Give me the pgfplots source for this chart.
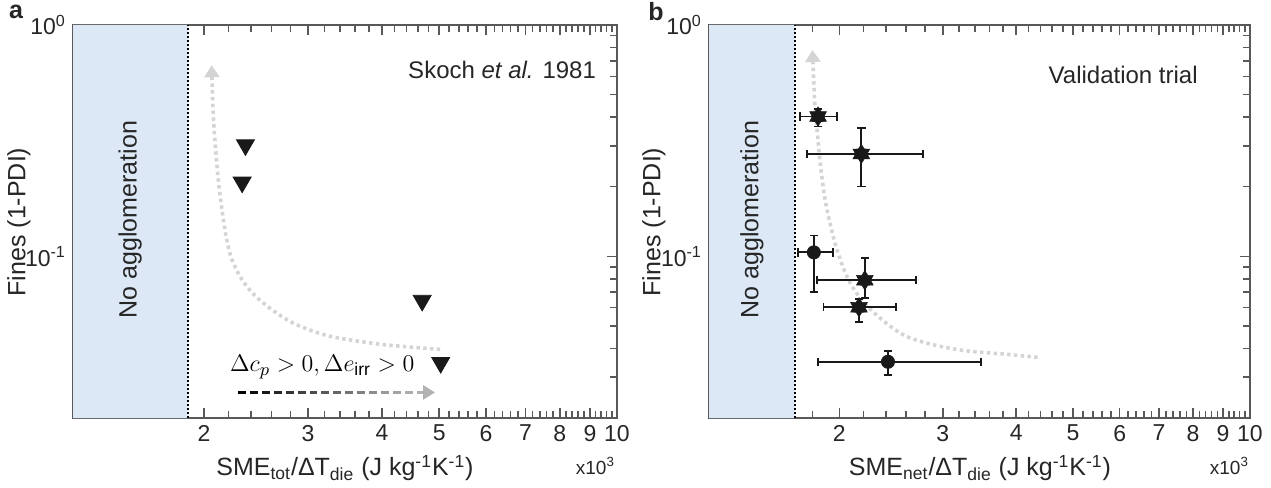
\documentclass[border=0pt]{standalone}
\usepackage{fontspec}
\setmainfont{Liberation Sans}
\usepackage{pgfplots}
\pgfplotsset{compat=1.18}
\usetikzlibrary{arrows.meta}
\definecolor{axgray}{HTML}{595959}
\definecolor{txtgray}{HTML}{262626}
\definecolor{noagg}{RGB}{220,232,245}
\definecolor{curvegray}{HTML}{D4D4D4}

\pgfdeclareplotmark{hexstar}{%
  \pgfpathmoveto{\pgfpointpolar{90}{\pgfplotmarksize}}%
  \pgfpathlineto{\pgfpointpolar{120}{0.6\pgfplotmarksize}}%
  \pgfpathlineto{\pgfpointpolar{150}{\pgfplotmarksize}}%
  \pgfpathlineto{\pgfpointpolar{180}{0.6\pgfplotmarksize}}%
  \pgfpathlineto{\pgfpointpolar{210}{\pgfplotmarksize}}%
  \pgfpathlineto{\pgfpointpolar{240}{0.6\pgfplotmarksize}}%
  \pgfpathlineto{\pgfpointpolar{270}{\pgfplotmarksize}}%
  \pgfpathlineto{\pgfpointpolar{300}{0.6\pgfplotmarksize}}%
  \pgfpathlineto{\pgfpointpolar{330}{\pgfplotmarksize}}%
  \pgfpathlineto{\pgfpointpolar{0}{0.6\pgfplotmarksize}}%
  \pgfpathlineto{\pgfpointpolar{30}{\pgfplotmarksize}}%
  \pgfpathlineto{\pgfpointpolar{60}{0.6\pgfplotmarksize}}%
  \pgfpathclose
  \pgfusepathqfillstroke}

\tikzset{
  ebar/.style={black!90, line width=0.9pt},
  hbar/.style={ebar, mark=|, mark size=2.1pt, mark options={solid, line width=0.9pt}},
  vbar/.style={ebar, mark=-, mark size=2.1pt, mark options={solid, line width=0.9pt}},
  dsh/.style={line width=1.6pt, line cap=butt},
  gcurve/.style={curvegray, line width=1.8pt, line cap=butt, dash pattern=on 1.7pt off 1.7pt, smooth, tension=0.5, -{Triangle[length=6pt,width=7.5pt]}},
}

\begin{document}
\begin{tikzpicture}[x=1pt, y=1pt, font=\fontsize{12.5}{14}\selectfont]
\path[use as bounding box] (0,0) rectangle (635.5,244);

% ---------------- panel a ----------------
\begin{axis}[
    width=272pt, at={(36.5pt,35pt)}, anchor=south west,
    scale only axis, height=196.5pt,
    xmode=log, ymode=log,
    xmin=1.2, xmax=10, ymin=0.02, ymax=1,
    clip mode=individual,
    axis line style={draw=axgray, line width=1pt},
    major tick style={draw=axgray, line width=0.8pt},
    minor tick style={draw=axgray, line width=0.8pt},
    tick align=inside,
    major tick length=5pt, minor tick length=3.4pt,
    xtick={2,3,4,5,6,7,8,9,10},
    xticklabels={2,3,4,5,6,7,8,9,10},
    minor xtick={1.4,1.6,1.8,2.2,2.4,2.6,2.8,3.2,3.4,3.6,3.8,4.2,4.4,4.6,4.8,5.2,5.4,5.6,5.8,6.2,6.4,6.6,6.8,7.2,7.4,7.6,7.8,8.2,8.4,8.6,8.8,9.2,9.4,9.6,9.8},
    ytick={0.1,1},
    yticklabels={10\textsuperscript{-1},10\textsuperscript{0}},
    minor ytick={0.03,0.04,0.05,0.06,0.07,0.08,0.09,0.2,0.3,0.4,0.5,0.6,0.7,0.8,0.9},
    tick label style={font=\fontsize{11.5}{13}\selectfont, text=txtgray},
  ]
\addplot[fill=noagg, draw=none, forget plot] coordinates {(1.2,0.02) (1.88,0.02) (1.88,1) (1.2,1)} \closedcycle;
\addplot[black, line width=0.9pt, dash pattern=on 1pt off 1pt, forget plot] coordinates {(1.88,0.02) (1.88,1)};
\node[rotate=90, text=txtgray, font=\fontsize{12.5}{14}\selectfont] at (axis cs:1.5,0.144) {No agglomeration};
\addplot[gcurve] coordinates {(5.02,0.0396) (4.0,0.0416) (3.26,0.0452) (2.85,0.051) (2.60,0.059) (2.42,0.069) (2.30,0.082) (2.22,0.10) (2.17,0.13) (2.12,0.20) (2.09,0.30) (2.07,0.44) (2.06,0.67)};
\addplot[only marks, mark=triangle*, mark size=5.2pt, mark options={rotate=180, fill=black!90, draw=black!90}] coordinates {(2.35,0.303) (2.32,0.209) (4.68,0.0644) (5.03,0.0347)};
% gradient dashed arrow
\addplot[dsh, black!100] coordinates {(2.280,0.0258) (2.352,0.0258)};
\addplot[dsh, black!95] coordinates {(2.389,0.0258) (2.464,0.0258)};
\addplot[dsh, black!90] coordinates {(2.503,0.0258) (2.582,0.0258)};
\addplot[dsh, black!85] coordinates {(2.623,0.0258) (2.706,0.0258)};
\addplot[dsh, black!80] coordinates {(2.748,0.0258) (2.835,0.0258)};
\addplot[dsh, black!75] coordinates {(2.879,0.0258) (2.970,0.0258)};
\addplot[dsh, black!70] coordinates {(3.017,0.0258) (3.112,0.0258)};
\addplot[dsh, black!65] coordinates {(3.161,0.0258) (3.261,0.0258)};
\addplot[dsh, black!60] coordinates {(3.312,0.0258) (3.417,0.0258)};
\addplot[dsh, black!55] coordinates {(3.470,0.0258) (3.580,0.0258)};
\addplot[dsh, black!50] coordinates {(3.636,0.0258) (3.751,0.0258)};
\addplot[dsh, black!45] coordinates {(3.810,0.0258) (3.930,0.0258)};
\addplot[dsh, black!40] coordinates {(3.992,0.0258) (4.118,0.0258)};
\addplot[dsh, black!36] coordinates {(4.182,0.0258) (4.314,0.0258)};
\addplot[dsh, black!32] coordinates {(4.382,0.0258) (4.520,0.0258)};
\addplot[dsh, black!30, -{Triangle[length=6pt,width=7pt]}] coordinates {(4.592,0.0258) (4.92,0.0258)};
\node[font=\fontsize{12.5}{14}\selectfont] at (axis cs:3.17,0.0333) {$\Delta c_p > 0, \Delta e_{\mathrm{irr}} > 0$};
\node[anchor=east, inner sep=0pt, text=txtgray, font=\fontsize{12}{14}\selectfont] at (rel axis cs:0.962,0.885) {Skoch \textit{et al.} 1981};
\end{axis}

% ---------------- panel b ----------------
\begin{axis}[
    width=270.5pt, at={(354.5pt,35pt)}, anchor=south west,
    scale only axis, height=196.5pt,
    xmode=log, ymode=log,
    xmin=1.2, xmax=10, ymin=0.02, ymax=1,
    clip mode=individual,
    axis line style={draw=axgray, line width=1pt},
    major tick style={draw=axgray, line width=0.8pt},
    minor tick style={draw=axgray, line width=0.8pt},
    tick align=inside,
    major tick length=5pt, minor tick length=3.4pt,
    xtick={2,3,4,5,6,7,8,9,10},
    xticklabels={2,3,4,5,6,7,8,9,10},
    minor xtick={1.4,1.6,1.8,2.2,2.4,2.6,2.8,3.2,3.4,3.6,3.8,4.2,4.4,4.6,4.8,5.2,5.4,5.6,5.8,6.2,6.4,6.6,6.8,7.2,7.4,7.6,7.8,8.2,8.4,8.6,8.8,9.2,9.4,9.6,9.8},
    ytick={0.1,1},
    yticklabels={10\textsuperscript{-1},10\textsuperscript{0}},
    minor ytick={0.03,0.04,0.05,0.06,0.07,0.08,0.09,0.2,0.3,0.4,0.5,0.6,0.7,0.8,0.9},
    tick label style={font=\fontsize{11.5}{13}\selectfont, text=txtgray},
  ]
\addplot[fill=noagg, draw=none, forget plot] coordinates {(1.2,0.02) (1.68,0.02) (1.68,1) (1.2,1)} \closedcycle;
\addplot[black, line width=0.9pt, dash pattern=on 1pt off 1pt, forget plot] coordinates {(1.68,0.02) (1.68,1)};
\node[rotate=90, text=txtgray, font=\fontsize{12.5}{14}\selectfont] at (axis cs:1.42,0.144) {No agglomeration};
\addplot[gcurve] coordinates {(4.35,0.0366) (3.90,0.0376) (3.16,0.0396) (2.60,0.0451) (2.26,0.0589) (2.087,0.0767) (1.981,0.107) (1.90,0.165) (1.86,0.24) (1.835,0.34) (1.815,0.48) (1.80,0.78)};
% error bars (horizontal)
\addplot[hbar] coordinates {(1.715,0.402) (1.98,0.402)};
\addplot[hbar] coordinates {(1.76,0.277) (2.78,0.277)};
\addplot[hbar] coordinates {(1.70,0.104) (1.95,0.104)};
\addplot[hbar] coordinates {(1.83,0.0788) (2.70,0.0788)};
\addplot[hbar] coordinates {(1.88,0.0602) (2.50,0.0602)};
\addplot[hbar] coordinates {(1.84,0.0350) (3.48,0.0350)};
% error bars (vertical)
\addplot[vbar] coordinates {(1.84,0.364) (1.84,0.4325)};
\addplot[vbar] coordinates {(2.18,0.2005) (2.18,0.360)};
\addplot[vbar] coordinates {(1.81,0.070) (1.81,0.123)};
\addplot[vbar] coordinates {(2.21,0.066) (2.21,0.0983)};
\addplot[vbar] coordinates {(2.16,0.0521) (2.16,0.0654)};
\addplot[vbar] coordinates {(2.42,0.0308) (2.42,0.0389)};
% markers
\addplot[only marks, mark=hexstar, mark size=4.8pt, mark options={fill=black!90, draw=black!90, line width=0.3pt}] coordinates {(1.84,0.402) (2.18,0.277) (2.21,0.0788) (2.16,0.0602)};
\addplot[only marks, mark=*, mark size=3.3pt, mark options={fill=black!90, draw=black!90}] coordinates {(1.81,0.104) (2.42,0.0350)};
\node[anchor=east, inner sep=0pt, text=txtgray, font=\fontsize{12}{14}\selectfont] at (rel axis cs:0.904,0.873) {Validation trial};
\end{axis}

% ---------------- outer labels ----------------
\node[font=\bfseries\fontsize{12.5}{14}\selectfont, text=txtgray] at (8,238) {a};
\node[font=\bfseries\fontsize{12.5}{14}\selectfont, text=txtgray] at (328,238) {b};
\node[rotate=90, text=txtgray] at (9.5,133) {Fines (1-PDI)};
\node[rotate=90, text=txtgray] at (327,133) {Fines (1-PDI)};
\node[text=txtgray] at (172.5,10) {SME\textsubscript{tot}/ΔT\textsubscript{die} (J kg\textsuperscript{-1}K\textsuperscript{-1})};
\node[text=txtgray] at (490,10) {SME\textsubscript{net}/ΔT\textsubscript{die} (J kg\textsuperscript{-1}K\textsuperscript{-1})};
\node[anchor=east, text=txtgray, font=\fontsize{9.5}{11}\selectfont] at (311,11) {x10\textsuperscript{3}};
\node[anchor=east, text=txtgray, font=\fontsize{9.5}{11}\selectfont] at (628,11) {x10\textsuperscript{3}};
\end{tikzpicture}
\end{document}
